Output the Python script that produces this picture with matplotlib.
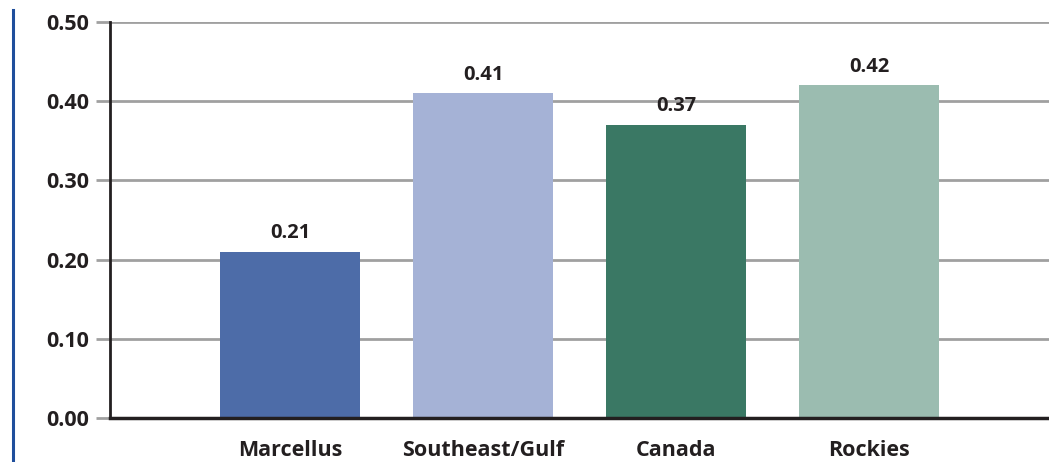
import matplotlib
matplotlib.use("Agg")
import matplotlib.pyplot as plt
from matplotlib.lines import Line2D

categories = ["Marcellus", "Southeast/Gulf", "Canada", "Rockies"]
values = [0.21, 0.41, 0.37, 0.42]
colors = ["#4d6ca8", "#a5b2d6", "#3a7864", "#9bbcb0"]
yticks = [0.0, 0.1, 0.2, 0.3, 0.4, 0.5]

plt.rcParams['font.family'] = ['Open Sans', 'DejaVu Sans']
txt = "#231f20"

fig = plt.figure(figsize=(10.49, 4.62), dpi=100)
W, H = 1049, 462
ax = fig.add_axes([110 / W, 1 - 418 / H, (1049 - 110) / W, (418 - 22) / H])

x = list(range(len(categories)))
ax.bar(x, values, width=0.725, color=colors, zorder=3)
for xi, v in zip(x, values):
    ax.text(xi, v + 0.011, f"{v:.2f}", ha="center", va="bottom",
            fontsize=14.5, fontweight="bold", color=txt, zorder=4)

ax.set_xlim(-0.933, 3.932)
ax.set_ylim(0, 0.5)
ax.set_yticks(yticks)
ax.set_yticklabels([f"{t:.2f}" for t in yticks], fontsize=15.5, fontweight="bold", color=txt)
ax.set_xticks(x)
ax.set_xticklabels(categories, fontsize=15.5, fontweight="bold", color=txt)
ax.tick_params(axis="x", length=0, pad=16)
ax.tick_params(axis="y", length=10, width=2, color="#a0a0a0", pad=5)
ax.yaxis.grid(True, color="#a0a0a0", linewidth=2, zorder=0)
ax.set_axisbelow(True)
for s in ["top", "right"]:
    ax.spines[s].set_visible(False)
ax.spines["left"].set_linewidth(2)
ax.spines["bottom"].set_linewidth(2.5)
ax.spines["left"].set_color("#231f20")
ax.spines["bottom"].set_color("#231f20")
ax.spines["left"].set_zorder(5)
ax.spines["bottom"].set_zorder(5)

fig.add_artist(Line2D([12.5 / W, 12.5 / W], [0, 1 - 10 / H], transform=fig.transFigure,
                      color="#1f4e9c", linewidth=2.2))

fig.savefig("out.png", dpi=100)
